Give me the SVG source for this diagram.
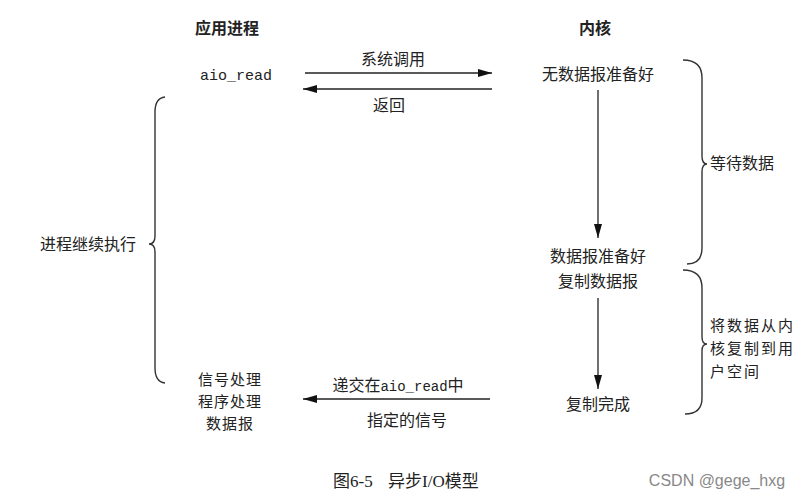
<svg xmlns="http://www.w3.org/2000/svg" width="808" height="498" viewBox="0 0 808 498">
<defs>
<marker id="ah" viewBox="0 0 14 8" refX="14" refY="4" markerWidth="14" markerHeight="8" markerUnits="userSpaceOnUse" orient="auto">
<path d="M0,0 L14,4 L0,8 Z" fill="#111"/>
</marker>
<style>
.t{font-family:"Noto Sans CJK SC","Noto Sans",sans-serif;font-size:16px;fill:#222;text-anchor:middle}
.n{font-size:15px}
.s{text-anchor:start}
.b{font-weight:bold}
.m{font-family:"Liberation Mono",monospace;font-size:15px;fill:#222}
.c{fill:none;stroke:#222;stroke-width:1.3}
.br{fill:none;stroke:#333;stroke-width:1.4}
</style>
</defs>
<rect width="808" height="498" fill="#fff"/>
<g id="app-title"><text class="t b" x="227" y="34">应用进程</text></g>
<g id="kernel-title"><text class="t b" x="595" y="34">内核</text></g>
<g id="aio_read"><text class="m" x="200" y="80">aio_read</text></g>
<g id="no-data"><text class="t" x="598" y="80">无数据报准备好</text></g>
<g id="data-ready"><text class="t" x="598" y="262">数据报准备好</text><text class="t" x="598" y="287">复制数据报</text></g>
<g id="copy-done"><text class="t" x="598" y="410">复制完成</text></g>
<g id="signal-handler"><text class="t n" x="230" y="385" style="letter-spacing:1px">信号处理</text><text class="t n" x="230" y="407" style="letter-spacing:1px">程序处理</text><text class="t n" x="230" y="429" style="letter-spacing:1px">数据报</text></g>
<g id="wait-data"><path class="br" d="M683,60 Q702,60 702,78 L702,156 Q702,164 707,164 Q702,164 702,172 L702,248 Q702,264 687,264"/><text class="t s" x="710" y="169">等待数据</text></g>
<g id="copy-data"><path class="br" d="M683,270 Q702,270 702,288 L702,337 Q702,344 707,344 Q702,344 702,351 L702,398 Q702,414 685,414"/><text class="t s n" x="710" y="331" style="letter-spacing:2px">将数据从内</text><text class="t s n" x="710" y="354" style="letter-spacing:2px">核复制到用</text><text class="t s n" x="710" y="377" style="letter-spacing:2px">户空间</text></g>
<g id="continue"><path class="br" d="M165,97 Q155,98 155,112 L155,236 Q155,244 149,244 Q155,244 155,252 L155,368 Q155,382 165,383"/><text class="t" x="88" y="250">进程继续执行</text></g>
<g id="connectors">
<line class="c" x1="305" y1="73" x2="492" y2="73" marker-end="url(#ah)"/>
<line class="c" x1="492" y1="89" x2="303" y2="89" marker-end="url(#ah)"/>
<line class="c" x1="598" y1="90" x2="598" y2="238" marker-end="url(#ah)"/>
<line class="c" x1="598" y1="298" x2="598" y2="389" marker-end="url(#ah)"/>
<line class="c" x1="490" y1="399" x2="303" y2="399" marker-end="url(#ah)"/>
<text class="t" x="393" y="65">系统调用</text>
<text class="t" x="389" y="111">返回</text>
<text class="t" x="398" y="391"><tspan>递交在</tspan><tspan class="m" style="font-size:14px">aio_read</tspan><tspan>中</tspan></text>
<text class="t" x="407" y="426">指定的信号</text>
</g>
<g id="caption"><text x="333" y="487" style="font-family:'Liberation Serif','Noto Sans CJK SC',serif;font-size:17px;fill:#222">图6-5<tspan x="388">异步I/O模型</tspan></text></g>
<g id="watermark"><text x="717" y="486" style="font-family:'Liberation Sans',sans-serif;font-size:16px;fill:#888;text-anchor:middle">CSDN @gege_hxg</text></g>
</svg>
